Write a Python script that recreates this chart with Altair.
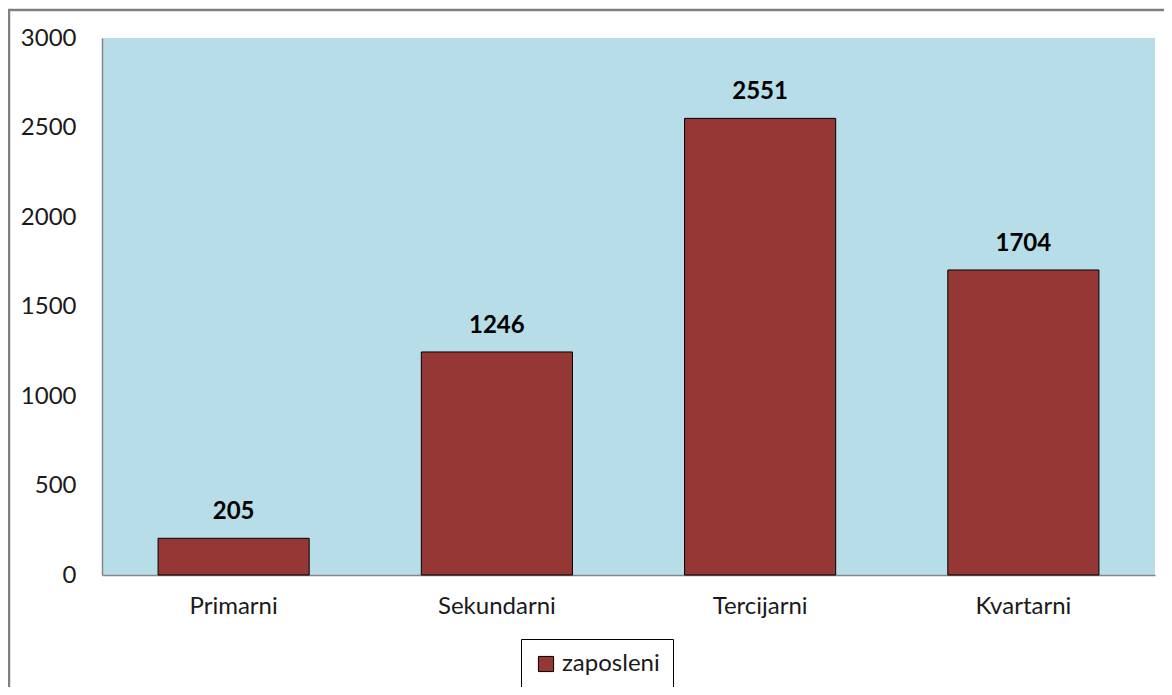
import altair as alt
import pandas as pd

categories = ["Primarni", "Sekundarni", "Tercijarni", "Kvartarni"]
values = [205, 1246, 2551, 1704]
series = ["zaposleni"] * 4

df = pd.DataFrame({"sektor": categories, "broj": values, "serija": series})

FONT = "Lato"
FS = 24

x = alt.X("sektor:N", sort=categories, title=None,
          scale=alt.Scale(paddingInner=0.426, paddingOuter=0.213),
          axis=alt.Axis(labelAngle=0, ticks=False, domainColor="#868686", domainWidth=1.5,
                        labelFontSize=FS, labelFont=FONT, labelColor="#1a1a1a", labelPadding=19))
y = alt.Y("broj:Q", title=None,
          scale=alt.Scale(domain=[0, 3000], nice=False),
          axis=alt.Axis(values=[0, 500, 1000, 1500, 2000, 2500, 3000], format="d", ticks=False, grid=False,
                        domainColor="#868686", domainWidth=1.5,
                        labelFontSize=FS, labelFont=FONT, labelColor="#1a1a1a", labelPadding=26))

bars = alt.Chart(df).mark_bar(stroke="black", strokeWidth=1).encode(
    x=x, y=y,
    color=alt.Color("serija:N", scale=alt.Scale(range=["#953735"]),
                    legend=alt.Legend(orient="none", legendX=419, legendY=601, title=None,
                                      direction="horizontal", strokeColor="black", fillColor="white",
                                      padding=13, symbolType="square", symbolSize=230,
                                      symbolStrokeColor="black", symbolStrokeWidth=1,
                                      labelFontSize=FS, labelFont=FONT, labelColor="#1a1a1a",
                                      labelOffset=4)),
)

labels = alt.Chart(df).mark_text(dy=-26, fontSize=FS, fontWeight="bold", font=FONT, color="black").encode(
    x=alt.X("sektor:N", sort=categories), y="broj:Q", text="broj:Q"
)

frame = alt.Chart(alt.Data(values=[{"a": 1}])).mark_rect(
    fillOpacity=0, stroke="#808080", strokeWidth=2.5
).encode(x=alt.value(-93), x2=alt.value(1100), y=alt.value(-28), y2=alt.value(700))

chart = alt.layer(frame, bars, labels).properties(
    width=1053, height=537,
    autosize=alt.AutoSizeParams(type="none"),
    padding={"left": 94, "top": 30, "right": 9, "bottom": 112},
    view=alt.ViewBackground(fill="#B7DDE8", strokeWidth=0),
).configure_view(fill="#B7DDE8", strokeWidth=0).configure(background="white")

chart.save("out.html", embed_options={"renderer": "svg", "actions": False})
